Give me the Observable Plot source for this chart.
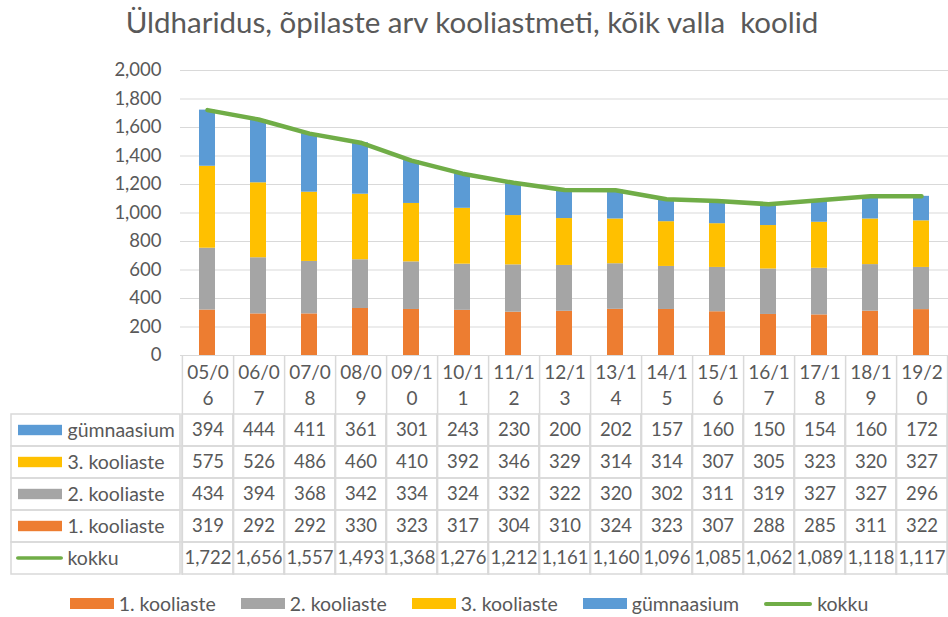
<!DOCTYPE html>
<html>
<head>
<meta charset="utf-8">
<script src="https://cdn.jsdelivr.net/npm/d3@7"></script>
<script src="https://cdn.jsdelivr.net/npm/@observablehq/plot@0.6"></script>
<style>
  html, body { margin: 0; padding: 0; background: #fff; }
  #wrap { position: relative; width: 948px; height: 617px; overflow: hidden; font-family: Lato, "Open Sans", sans-serif; color: #595959; }
  #title { position: absolute; left: 0; width: 944px; top: 4px; text-align: center; font-size: 29.5px; color: #595959; white-space: pre; }
  #chart { position: absolute; left: 0; top: 55px; }
  #table { position: absolute; left: 0; top: 355px; }
  #legend { position: absolute; left: 0; width: 938px; top: 592px; display: flex; justify-content: center; gap: 25px; font-size: 19.5px; }
  .item { display: flex; align-items: center; gap: 5px; }
  .sw { width: 44px; height: 11px; }
  .ln { width: 48px; height: 4px; border-radius: 2px; }
  svg text { font-family: Lato, "Open Sans", sans-serif; }
</style>
</head>
<body>
<div id="wrap">
  <div id="title">Üldharidus, õpilaste arv kooliastmeti, kõik valla  koolid</div>
  <div id="chart"></div>
  <div id="table"></div>
  <div id="legend"></div>
</div>
<script>
const categories = ["05/06","06/07","07/08","08/09","09/10","10/11","11/12","12/13","13/14","14/15","15/16","16/17","17/18","18/19","19/20"];
const headerLabels = ["05/0\n6","06/0\n7","07/0\n8","08/0\n9","09/1\n0","10/1\n1","11/1\n2","12/1\n3","13/1\n4","14/1\n5","15/1\n6","16/1\n7","17/1\n8","18/1\n9","19/2\n0"];
const seriesNames = ["1. kooliaste","2. kooliaste","3. kooliaste","gümnaasium"];
const seriesColors = ["#ED7D31","#A5A5A5","#FFC000","#5B9BD5"];
const kooliaste1 = [319,292,292,330,323,317,304,310,324,323,307,288,285,311,322];
const kooliaste2 = [434,394,368,342,334,324,332,322,320,302,311,319,327,327,296];
const kooliaste3 = [575,526,486,460,410,392,346,329,314,314,307,305,323,320,327];
const gymnaasium = [394,444,411,361,301,243,230,200,202,157,160,150,154,160,172];
const kokku = [1722,1656,1557,1493,1368,1276,1212,1161,1160,1096,1085,1062,1089,1118,1117];
const totalName = "kokku";
const totalColor = "#70AD47";
const yTicks = [0,200,400,600,800,1000,1200,1400,1600,1800,2000];

const seriesValues = [kooliaste1, kooliaste2, kooliaste3, gymnaasium];
const stacked = [];
seriesNames.forEach((s, si) => categories.forEach((c, ci) => stacked.push({cat: c, series: s, value: seriesValues[si][ci]})));
const totals = categories.map((c, i) => ({cat: c, value: kokku[i]}));

const textColor = "#595959";
const gridColor = "#d9d9d9";
const fmt = d3.format(",");

const chart = Plot.plot({
  width: 948,
  height: 313,
  marginTop: 15,
  marginBottom: 13,
  marginLeft: 180,
  marginRight: 0,
  x: {domain: categories, paddingInner: 0.68, paddingOuter: 0.34, axis: null},
  y: {domain: [0, 2000], axis: null},
  color: {domain: seriesNames, range: seriesColors},
  style: {fontSize: "18.5px", color: textColor, background: "transparent", overflow: "visible"},
  marks: [
    Plot.gridY(yTicks, {stroke: gridColor, strokeOpacity: 1}),
    Plot.axisY(yTicks, {tickSize: 0, tickPadding: 19, tickFormat: fmt, label: null, fill: textColor, fontSize: 18.5}),
    Plot.barY(stacked, {x: "cat", y: "value", fill: "series"}),
    Plot.line(totals, {x: "cat", y: "value", stroke: totalColor, strokeWidth: 4.5, strokeLinecap: "round", strokeLinejoin: "round"})
  ]
});
document.getElementById("chart").appendChild(chart);

const rowNames = ["gümnaasium","3. kooliaste","2. kooliaste","1. kooliaste","kokku"];
const rowValues = {"gümnaasium": gymnaasium, "3. kooliaste": kooliaste3, "2. kooliaste": kooliaste2, "1. kooliaste": kooliaste1, "kokku": kokku};
const rowColors = {"gümnaasium": seriesColors[3], "3. kooliaste": seriesColors[2], "2. kooliaste": seriesColors[1], "1. kooliaste": seriesColors[0]};
const tableData = [];
rowNames.forEach(r => categories.forEach((c, i) => tableData.push({row: r, cat: c, value: rowValues[r][i]})));
const barRows = rowNames.filter(r => r !== totalName);

const step = 768 / categories.length;
const table = Plot.plot({
  width: 948,
  height: 222,
  marginTop: 57,
  marginBottom: 2,
  marginLeft: 180,
  marginRight: 0,
  x: {domain: categories, padding: 0, axis: null},
  y: {domain: rowNames, padding: 0, axis: null},
  style: {fontSize: "18.5px", color: textColor, background: "transparent"},
  marks: [
    Plot.tickX(categories, {x: d => d, dx: step / 2, insetTop: -57, stroke: gridColor, strokeWidth: 1.5}),
    Plot.tickX([categories[0]], {x: d => d, dx: -step / 2, insetTop: -57, stroke: gridColor, strokeWidth: 1.5}),
    Plot.cell(tableData, {x: "cat", y: "row", fill: "none", stroke: gridColor, strokeWidth: 1.5}),
    Plot.cell(rowNames, {y: d => d, fill: "none", stroke: gridColor, strokeWidth: 1.5, insetLeft: -169, insetRight: 768}),
    Plot.cell(barRows, {y: d => d, fill: d => rowColors[d], insetLeft: -162, insetRight: 886, insetTop: 10.8, insetBottom: 10.8}),
    Plot.cell([totalName], {y: d => d, fill: totalColor, insetLeft: -164, insetRight: 885, insetTop: 14.3, insetBottom: 14.3, rx: 2}),
    Plot.text(rowNames, {y: d => d, text: d => d, frameAnchor: "left", dx: -113, textAnchor: "start", fill: textColor, fontSize: 19.5}),
    Plot.text(categories, {x: d => d, text: (d, i) => headerLabels[i], frameAnchor: "top", lineAnchor: "middle", dy: -29, lineHeight: 1.4, fill: textColor, fontSize: 19}),
    Plot.text(tableData, {x: "cat", y: "row", text: d => fmt(d.value), fill: textColor, fontSize: 18.5})
  ]
});
document.getElementById("table").appendChild(table);

const legend = document.getElementById("legend");
seriesNames.forEach((s, i) => {
  const it = document.createElement("div"); it.className = "item";
  const sw = document.createElement("div"); sw.className = "sw"; sw.style.background = seriesColors[i];
  const t = document.createElement("span"); t.textContent = s;
  it.appendChild(sw); it.appendChild(t); legend.appendChild(it);
});
{
  const it = document.createElement("div"); it.className = "item";
  const sw = document.createElement("div"); sw.className = "ln"; sw.style.background = totalColor;
  const t = document.createElement("span"); t.textContent = totalName;
  it.appendChild(sw); it.appendChild(t); legend.appendChild(it);
}
</script>
</body>
</html>
